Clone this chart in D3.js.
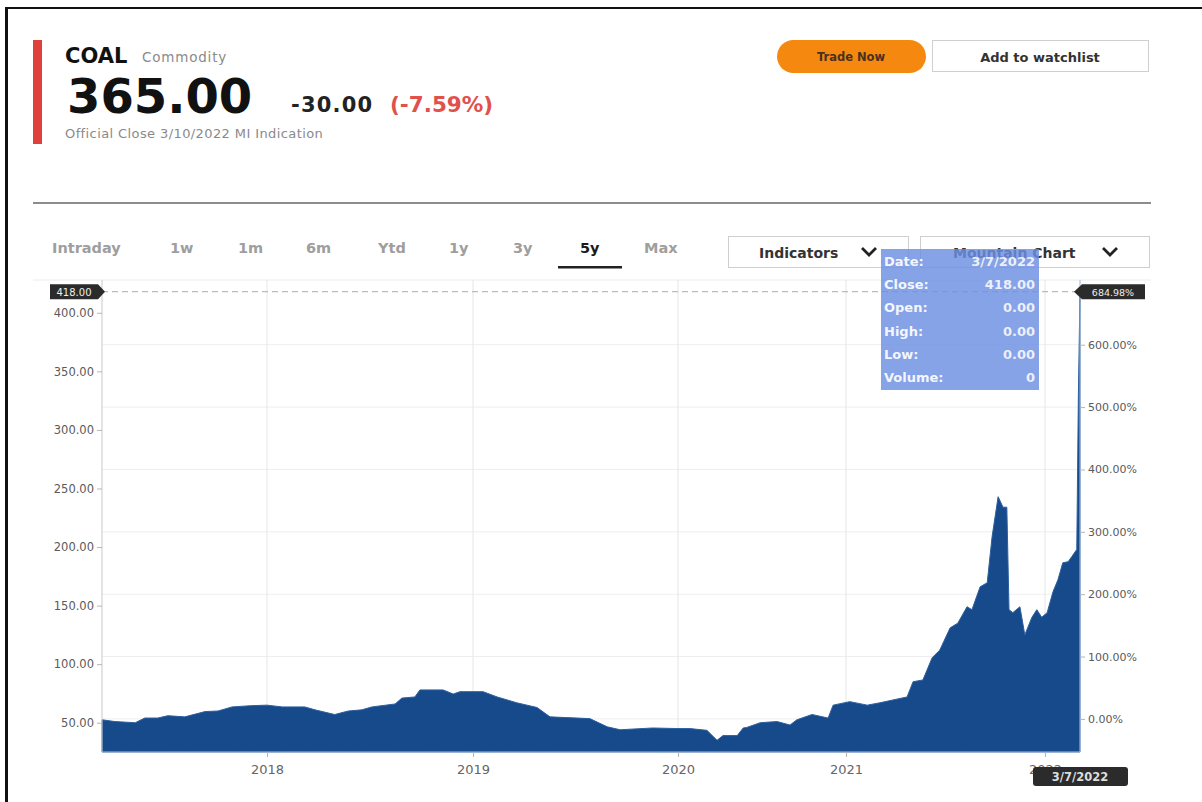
<!DOCTYPE html>
<html>
<head>
<meta charset="utf-8">
<script src="https://cdn.jsdelivr.net/npm/d3@7"></script>
<style>
  body { margin: 0; background: #fff; }
  svg { display: block; font-family: "DejaVu Sans", sans-serif; }
</style>
</head>
<body>
<svg id="chart" width="1202" height="802"></svg>
<script>
// ---- data ----
const dates = [
  "2017-03-14","2017-04-06","2017-05-12","2017-05-29","2017-06-21","2017-07-09","2017-08-08",
  "2017-09-13","2017-10-06","2017-10-31","2017-12-02","2018-01-01","2018-01-28","2018-03-09",
  "2018-03-27","2018-05-01","2018-05-25","2018-06-18","2018-07-06","2018-08-16","2018-08-28",
  "2018-09-20","2018-09-29","2018-11-09","2018-11-27","2018-12-09","2019-01-01","2019-01-19",
  "2019-02-13","2019-03-20","2019-04-25","2019-05-18","2019-07-28","2019-08-28","2019-09-20",
  "2019-11-17","2020-01-01","2020-01-27","2020-03-04","2020-03-26","2020-04-08","2020-05-09",
  "2020-05-22","2020-05-30","2020-06-28","2020-08-04","2020-09-01","2020-09-16","2020-10-19",
  "2020-11-23","2020-12-04","2021-01-08","2021-02-09","2021-03-04","2021-04-23","2021-05-04",
  "2021-05-22","2021-06-08","2021-06-22","2021-07-11","2021-07-25","2021-08-11","2021-08-20",
  "2021-09-04","2021-09-17","2021-09-26","2021-10-07","2021-10-16","2021-10-23","2021-10-27",
  "2021-11-03","2021-11-16","2021-11-25","2021-12-08","2021-12-17","2021-12-26","2022-01-05",
  "2022-01-16","2022-01-25","2022-02-03","2022-02-13","2022-02-20","2022-03-01","2022-03-04",
  "2022-03-07"
];
const closes = [
  52.5, 51, 50, 54, 54, 56, 55,
  59.5, 60, 63.5, 64.5, 65, 63.5, 63.5,
  61, 57, 60, 61, 63.5, 66, 71,
  72, 78, 78, 74.5, 76.5, 76.5, 76.5,
  72, 67, 63, 55, 53.5, 46.5, 44,
  45.5, 45, 45, 43.5, 35, 39, 39,
  45.5, 46, 50, 51, 48, 52.5, 57,
  54, 65, 68, 65, 67, 72, 85,
  86.5, 105.5, 112, 131, 135, 149, 146.5,
  166, 169.5, 209, 243, 234, 234, 146.5,
  144, 149, 125, 140, 146.5, 140, 144,
  162, 172, 186.5, 187.5, 192, 198, 330,
  418
];
const priceTicks = [50, 100, 150, 200, 250, 300, 350, 400];
const pctTicks = [0, 100, 200, 300, 400, 500, 600];
const yearTicks = ["2018-01-01", "2019-01-01", "2020-01-01", "2021-01-01", "2022-01-01"];
const lastPct = 684.98;
const lastDateLabel = "3/7/2022";
const tabs = ["Intraday", "1w", "1m", "6m", "Ytd", "1y", "3y", "5y", "Max"];
const activeTab = "5y";
const tipRows = [["Date:", "3/7/2022"], ["Close:", "418.00"], ["Open:", "0.00"],
                 ["High:", "0.00"], ["Low:", "0.00"], ["Volume:", "0"]];

const parse = d3.timeParse("%Y-%m-%d");
const series = dates.map((d, i) => ({ date: parse(d), close: closes[i] }));
const lastClose = closes[closes.length - 1];
const base = lastClose / (1 + lastPct / 100);

const svg = d3.select("#chart");

// frame
svg.append("rect").attr("x", 5).attr("y", 7).attr("width", 3).attr("height", 795).attr("fill", "#111");
svg.append("rect").attr("x", 5).attr("y", 7).attr("width", 1197).attr("height", 2).attr("fill", "#111");

// ---- header ----
svg.append("rect").attr("x", 33).attr("y", 40).attr("width", 9).attr("height", 104).attr("fill", "#e0403c");
svg.append("text").attr("x", 65).attr("y", 63).attr("font-size", 21).attr("font-weight", "bold")
  .attr("fill", "#111").text("COAL");
svg.append("text").attr("x", 142).attr("y", 62).attr("font-size", 13.5).attr("fill", "#8a8a8a")
  .attr("letter-spacing", 0.8).text("Commodity");
svg.append("text").attr("x", 67).attr("y", 113).attr("font-size", 48).attr("font-weight", "bold")
  .attr("fill", "#111").text("365.00");
svg.append("text").attr("x", 291).attr("y", 112).attr("font-size", 21).attr("font-weight", "bold")
  .attr("letter-spacing", 1.2).attr("fill", "#222").text("-30.00");
svg.append("text").attr("x", 390).attr("y", 112).attr("font-size", 21.5).attr("font-weight", "bold")
  .attr("fill", "#e0514d").text("(-7.59%)");
svg.append("text").attr("x", 65).attr("y", 138).attr("font-size", 13).attr("fill", "#8a8a8a")
  .attr("letter-spacing", 0.4).text("Official Close 3/10/2022  MI Indication");

// buttons
svg.append("rect").attr("x", 777).attr("y", 40).attr("width", 149).attr("height", 33).attr("rx", 16.5)
  .attr("fill", "#f5890f");
svg.append("text").attr("x", 851).attr("y", 61).attr("text-anchor", "middle").attr("font-size", 11.5)
  .attr("font-weight", "bold").attr("fill", "#4a3020").text("Trade Now");
svg.append("rect").attr("x", 932.5).attr("y", 40.5).attr("width", 216).attr("height", 31)
  .attr("fill", "#fff").attr("stroke", "#cfcfcf");
svg.append("text").attr("x", 1040).attr("y", 62).attr("text-anchor", "middle").attr("font-size", 13)
  .attr("font-weight", "bold").attr("fill", "#333").text("Add to watchlist");

// separator
svg.append("rect").attr("x", 33).attr("y", 202).attr("width", 1118).attr("height", 2).attr("fill", "#8c8c8c");

// tabs
const tabX = [52, 170, 238, 306, 378, 449, 513, 580, 644];
svg.append("g").selectAll("text").data(tabs).join("text")
  .attr("x", (d, i) => tabX[i]).attr("y", 253)
  .attr("font-size", 14.5).attr("font-weight", "bold")
  .attr("fill", d => d === activeTab ? "#1a1a1a" : "#9e9e9e")
  .text(d => d);
svg.append("rect").attr("x", 558).attr("y", 266).attr("width", 64).attr("height", 2.5).attr("fill", "#222");

// dropdowns
function dropdown(x0, w, label, tx) {
  svg.append("rect").attr("x", x0 + 0.5).attr("y", 236.5).attr("width", w).attr("height", 31)
    .attr("fill", "#fff").attr("stroke", "#cfcfcf");
  svg.append("text").attr("x", tx).attr("y", 258).attr("font-size", 14).attr("font-weight", "bold")
    .attr("fill", "#333").text(label);
  const cx = x0 + w - 46;
  svg.append("path").attr("d", `M${cx},${248} l7,7 l7,-7`).attr("fill", "none")
    .attr("stroke", "#222").attr("stroke-width", 2.8);
}
dropdown(728, 180, "Indicators", 759);
dropdown(920, 229, "Mountain Chart", 953);

// ---- chart ----
const plot = { left: 102, right: 1080, top: 280, bottom: 752 };

// piecewise time scale (the source axis is compressed in 2020)
const x = d3.scaleTime()
  .domain([parse("2017-03-14"), parse("2018-01-01"), parse("2019-01-01"), parse("2020-01-01"),
           parse("2021-01-01"), parse("2022-01-01"), parse("2022-03-07")])
  .range([plot.left, 267, 473, 678, 846, 1045, plot.right]);
const y = d3.scaleLinear().domain([25, 428]).range([plot.bottom, plot.top]);

// top rule
svg.append("line").attr("x1", 33).attr("x2", 1151).attr("y1", plot.top).attr("y2", plot.top)
  .attr("stroke", "#ececec");

// grid
svg.append("g").selectAll("line").data(pctTicks).join("line")
  .attr("x1", plot.left).attr("x2", plot.right)
  .attr("y1", d => y(base * (1 + d / 100))).attr("y2", d => y(base * (1 + d / 100)))
  .attr("stroke", "#eeeeee");
svg.append("g").selectAll("line").data(yearTicks).join("line")
  .attr("x1", d => x(parse(d))).attr("x2", d => x(parse(d)))
  .attr("y1", plot.top).attr("y2", plot.bottom)
  .attr("stroke", "#e6e6e6");

// dashed last-price line
svg.append("line").attr("x1", plot.left).attr("x2", plot.right)
  .attr("y1", y(lastClose)).attr("y2", y(lastClose))
  .attr("stroke", "#9fb0b4").attr("stroke-dasharray", "6,4");

// area
const area = d3.area().x(d => x(d.date)).y0(plot.bottom).y1(d => y(d.close));
svg.append("path").datum(series).attr("d", area)
  .attr("fill", "#174a8b").attr("stroke", "#2d5f9f").attr("stroke-width", 1);

// axes
const leftAxis = d3.axisLeft(y).tickValues(priceTicks).tickFormat(d3.format(".2f")).tickSize(5).tickPadding(3);
const gL = svg.append("g").attr("transform", `translate(${plot.left},0)`).call(leftAxis);
gL.select(".domain").attr("stroke", "#c9c9c9").attr("d", `M0,${plot.top}V${plot.bottom}`);
gL.selectAll(".tick line").attr("stroke", "#b5b5b5");
gL.selectAll(".tick text").attr("font-size", 11.5).attr("fill", "#5a5a5a").attr("font-family", "DejaVu Sans");

const rightAxis = d3.axisRight(y).tickValues(pctTicks.map(p => base * (1 + p / 100)))
  .tickFormat(v => d3.format(".2f")((v / base - 1) * 100) + "%").tickSize(5).tickPadding(3);
const gR = svg.append("g").attr("transform", `translate(${plot.right},0)`).call(rightAxis);
gR.select(".domain").attr("stroke", "#9fb8d8").attr("d", `M0,${plot.top}V${plot.bottom}`);
gR.selectAll(".tick line").attr("stroke", "#b5b5b5");
gR.selectAll(".tick text").attr("font-size", 11).attr("fill", "#5a5a5a").attr("font-family", "DejaVu Sans");

const bottomAxis = d3.axisBottom(x).tickValues(yearTicks.map(parse)).tickFormat(d3.timeFormat("%Y"))
  .tickSize(5).tickPadding(8);
const gB = svg.append("g").attr("transform", `translate(0,${plot.bottom})`).call(bottomAxis);
gB.select(".domain").attr("stroke", "#9fb8d8").attr("d", `M${plot.left},0H${plot.right}`);
gB.selectAll(".tick line").attr("stroke", "#b5b5b5");
gB.selectAll(".tick text").attr("font-size", 13).attr("fill", "#666").attr("font-family", "DejaVu Sans");

// price flag on the left
const yl = y(lastClose);
svg.append("path")
  .attr("d", `M50,${yl - 7.5}H98L105,${yl}L98,${yl + 7.5}H50Z`)
  .attr("fill", "#2b2b2b");
svg.append("text").attr("x", 74).attr("y", yl + 4).attr("text-anchor", "middle").attr("font-size", 10)
  .attr("fill", "#eee").text(d3.format(".2f")(lastClose));

// percent flag on the right
svg.append("path")
  .attr("d", `M1074,${yl}L1082,${yl - 7.5}H1145V${yl + 7.5}H1082Z`)
  .attr("fill", "#2b2b2b");
svg.append("text").attr("x", 1113).attr("y", yl + 4).attr("text-anchor", "middle").attr("font-size", 9.5)
  .attr("fill", "#eee").text(d3.format(".2f")(lastPct) + "%");

// date flag at the bottom
svg.append("rect").attr("x", 1033).attr("y", 767).attr("width", 95).attr("height", 19).attr("rx", 3)
  .attr("fill", "#2b2b2b");
svg.append("text").attr("x", 1080).attr("y", 781).attr("text-anchor", "middle").attr("font-size", 11.5)
  .attr("font-weight", "bold").attr("fill", "#ddd").text(lastDateLabel);

// tooltip
const tip = svg.append("g").attr("transform", "translate(881,249)");
tip.append("rect").attr("width", 158).attr("height", 141).attr("fill", "#6d8fe2").attr("opacity", 0.82);
tip.selectAll("text.k").data(tipRows).join("text").attr("class", "k")
  .attr("x", 3).attr("y", (d, i) => 17 + i * 23.2)
  .attr("font-size", 13).attr("font-weight", "bold").attr("fill", "#fff").attr("fill-opacity", 0.92)
  .text(d => d[0]);
tip.selectAll("text.v").data(tipRows).join("text").attr("class", "v")
  .attr("x", 154).attr("y", (d, i) => 17 + i * 23.2).attr("text-anchor", "end")
  .attr("font-size", 13).attr("font-weight", "bold").attr("fill", "#fff").attr("fill-opacity", 0.85)
  .text(d => d[1]);
</script>
</body>
</html>
